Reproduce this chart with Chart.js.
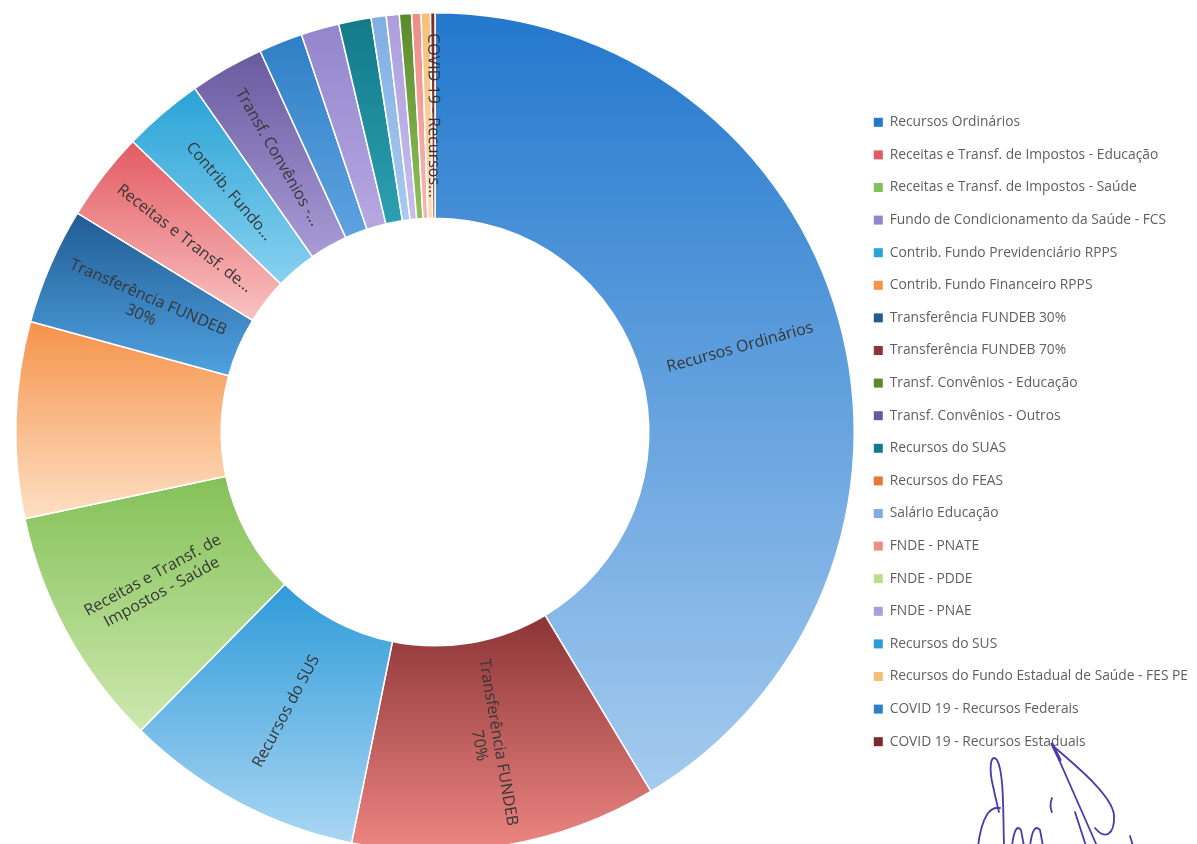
<!DOCTYPE html>
<html>
<head>
<meta charset="utf-8">
<script src="https://cdn.jsdelivr.net/npm/chart.js@4.4.1/dist/chart.umd.min.js"></script>
<style>
  html, body { margin: 0; padding: 0; background: #fff; overflow: hidden; }
  #wrap { position: absolute; left: 0; top: 0; width: 1197px; height: 864px; }
</style>
</head>
<body>
<div id="wrap"><canvas id="chart"></canvas></div>
<script>
// Slices in the order they sit round the ring (clockwise from the top), % of total
const sliceLabels = [
  'Recursos Ordinários',
  'Transferência FUNDEB 70%',
  'Recursos do SUS',
  'Receitas e Transf. de Impostos - Saúde',
  'Contrib. Fundo Financeiro RPPS',
  'Transferência FUNDEB 30%',
  'Receitas e Transf. de Impostos - Educação',
  'Contrib. Fundo Previdenciário RPPS',
  'Transf. Convênios - Outros',
  'COVID 19 - Recursos Federais',
  'Fundo de Condicionamento da Saúde - FCS',
  'Recursos do SUAS',
  'Salário Educação',
  'FNDE - PNAE',
  'Transf. Convênios - Educação',
  'FNDE - PNATE',
  'Recursos do Fundo Estadual de Saúde - FES PE',
  'COVID 19 - Recursos Estaduais',
  'Recursos do FEAS',
  'FNDE - PDDE'
];
const sliceValues = [41.4, 11.8, 9.2, 9.3, 7.56, 4.5, 3.44, 3.11, 2.86, 1.69,
                     1.47, 1.25, 0.58, 0.5, 0.47, 0.36, 0.36, 0.17, 0, 0];

// text written on the slices (empty = no label)
const sliceText = [
  ['Recursos Ordinários'],
  ['Transferência FUNDEB', '70%'],
  ['Recursos do SUS'],
  ['Receitas e Transf. de', 'Impostos - Saúde'],
  [],
  ['Transferência FUNDEB', '30%'],
  ['Receitas e Transf. de...'],
  ['Contrib. Fundo...'],
  ['Transf. Convênios -...'],
  [], [], [], [], [], [], [], [],
  ['COVID 19 - Recursos...'],
  [], []
];

// gradient fill per slice: top colour -> bottom colour
const topColors = ['#2378CD', '#8C3436', '#2F9BD9', '#84C158', '#F6924A', '#215C94', '#E35A62',
                   '#2AA3D6', '#695A9F', '#2F7FC6', '#9485CC', '#137A89', '#7FAEE3', '#AB9EDC',
                   '#5B8A2C', '#EE8C88', '#F7BE78', '#7A2A2C', '#E8783A', '#B9DE8E'];
const bottomColors = ['#A5CBEF', '#EC8682', '#AAD6F3', '#CDE8AE', '#FDE0C4', '#4FA2E0', '#F9C3C2',
                      '#88D1EF', '#A99BD6', '#5FA3E0', '#B5A8E2', '#2BA0B2', '#A7CAF0', '#C8BEEC',
                      '#8FC15A', '#F6B5B2', '#FCDDB1', '#A54242', '#F0A070', '#CFE8B0'];

// legend keeps the spreadsheet's series order
const legendOrder = [
  'Recursos Ordinários',
  'Receitas e Transf. de Impostos - Educação',
  'Receitas e Transf. de Impostos - Saúde',
  'Fundo de Condicionamento da Saúde - FCS',
  'Contrib. Fundo Previdenciário RPPS',
  'Contrib. Fundo Financeiro RPPS',
  'Transferência FUNDEB 30%',
  'Transferência FUNDEB 70%',
  'Transf. Convênios - Educação',
  'Transf. Convênios - Outros',
  'Recursos do SUAS',
  'Recursos do FEAS',
  'Salário Educação',
  'FNDE - PNATE',
  'FNDE - PDDE',
  'FNDE - PNAE',
  'Recursos do SUS',
  'Recursos do Fundo Estadual de Saúde - FES PE',
  'COVID 19 - Recursos Federais',
  'COVID 19 - Recursos Estaduais'
];

const LEGEND_WIDTH = 342;

Chart.defaults.font.family = '"Open Sans", sans-serif';

// fixed legend column width so the ring lands where it should
const legendWidth = {
  id: 'legendWidth',
  beforeLayout(chart) {
    const lg = chart.legend;
    if (lg && !lg._fixedWidth) {
      const fit = lg.fit;
      lg.fit = function () { fit.call(this); this.width = LEGEND_WIDTH; };
      lg._fixedWidth = true;
    }
  }
};

// vertical gradient over each slice's own height
const sliceGradient = {
  id: 'sliceGradient',
  beforeDatasetsDraw(chart) {
    const ctx = chart.ctx;
    chart.getDatasetMeta(0).data.forEach((arc, i) => {
      const p = arc.getProps(['x', 'y', 'startAngle', 'endAngle', 'innerRadius', 'outerRadius'], true);
      let yMin = Infinity, yMax = -Infinity;
      for (let k = 0; k <= 40; k++) {
        const a = p.startAngle + (p.endAngle - p.startAngle) * k / 40;
        [p.innerRadius, p.outerRadius].forEach(r => {
          const y = p.y + Math.sin(a) * r;
          yMin = Math.min(yMin, y);
          yMax = Math.max(yMax, y);
        });
      }
      if (yMax - yMin < 1) yMax = yMin + 1;
      const g = ctx.createLinearGradient(0, yMin, 0, yMax);
      g.addColorStop(0, topColors[i]);
      g.addColorStop(1, bottomColors[i]);
      arc.options.backgroundColor = g;
    });
  }
};

// labels written along the radius of each slice
const sliceLabelsPlugin = {
  id: 'sliceLabels',
  afterDatasetsDraw(chart) {
    const ctx = chart.ctx;
    ctx.save();
    ctx.font = '16px "Open Sans", sans-serif';
    ctx.fillStyle = '#363636';
    ctx.textAlign = 'center';
    ctx.textBaseline = 'middle';
    chart.getDatasetMeta(0).data.forEach((arc, i) => {
      const lines = sliceText[i];
      if (!lines || !lines.length) return;
      const p = arc.getProps(['x', 'y', 'startAngle', 'endAngle', 'innerRadius', 'outerRadius'], true);
      const mid = (p.startAngle + p.endAngle) / 2;
      const r = (p.innerRadius + p.outerRadius) / 2;
      let rot = mid;
      while (rot > Math.PI / 2) rot -= Math.PI;
      while (rot <= -Math.PI / 2) rot += Math.PI;
      ctx.save();
      ctx.translate(p.x + Math.cos(mid) * r, p.y + Math.sin(mid) * r);
      ctx.rotate(rot);
      const lh = 19;
      lines.forEach((t, j) => {
        ctx.fillText(t, 0, (j - (lines.length - 1) / 2) * lh);
      });
      ctx.restore();
    });
    ctx.restore();
  }
};

// the ink signature at the bottom right of the scanned page
const signature = {
  id: 'signature',
  afterDraw(chart) {
    const ctx = chart.ctx;
    ctx.save();
    ctx.strokeStyle = '#4a3aae';
    ctx.lineWidth = 1.8;
    ctx.lineCap = 'round';
    ctx.beginPath();
    ctx.moveTo(1004, 846);
    ctx.bezierCurveTo(1003, 810, 1004, 772, 997, 760);
    ctx.bezierCurveTo(990, 752, 989, 770, 993, 786);
    ctx.bezierCurveTo(996, 800, 998, 808, 999, 812);
    ctx.moveTo(1000, 808);
    ctx.bezierCurveTo(990, 806, 982, 816, 978, 846);
    ctx.moveTo(1012, 846);
    ctx.quadraticCurveTo(1015, 822, 1021, 830);
    ctx.lineTo(1024, 846);
    ctx.moveTo(1030, 846);
    ctx.quadraticCurveTo(1033, 822, 1040, 830);
    ctx.lineTo(1043, 846);
    ctx.moveTo(1052, 798);
    ctx.quadraticCurveTo(1049, 806, 1052, 812);
    ctx.moveTo(1075, 812);
    ctx.lineTo(1086, 846);
    ctx.moveTo(1097, 846);
    ctx.lineTo(1053, 746);
    ctx.bezierCurveTo(1075, 765, 1112, 795, 1114, 815);
    ctx.bezierCurveTo(1115, 835, 1105, 840, 1095, 828);
    ctx.moveTo(1130, 836);
    ctx.lineTo(1133, 846);
    ctx.stroke();
    ctx.lineWidth = 3;
    ctx.beginPath();
    ctx.moveTo(1052, 744);
    ctx.lineTo(1060, 760);
    ctx.stroke();
    ctx.restore();
  }
};

new Chart(document.getElementById('chart'), {
  type: 'doughnut',
  data: {
    labels: sliceLabels,
    datasets: [{
      data: sliceValues,
      backgroundColor: topColors,
      borderColor: '#ffffff',
      borderWidth: sliceValues.map(v => v > 0 ? 1.5 : 0)
    }]
  },
  options: {
    responsive: true,
    maintainAspectRatio: false,
    animation: false,
    events: [],
    cutout: '51%',
    layout: { padding: { left: 15, right: 0, top: 0, bottom: 0 } },
    plugins: {
      tooltip: { enabled: false },
      legend: {
        position: 'right',
        align: 'center',
        labels: {
          boxWidth: 9,
          boxHeight: 9,
          padding: 18.8,
          color: '#5f5f5f',
          font: { size: 13.8 },
          sort: (a, b) => legendOrder.indexOf(a.text) - legendOrder.indexOf(b.text),
          generateLabels(chart) {
            const items = Chart.overrides.doughnut.plugins.legend.labels.generateLabels(chart);
            items.forEach(it => { it.lineWidth = 0; it.strokeStyle = 'rgba(0,0,0,0)'; });
            return items;
          }
        }
      }
    }
  },
  plugins: [legendWidth, sliceGradient, sliceLabelsPlugin, signature]
});
</script>
</body>
</html>
